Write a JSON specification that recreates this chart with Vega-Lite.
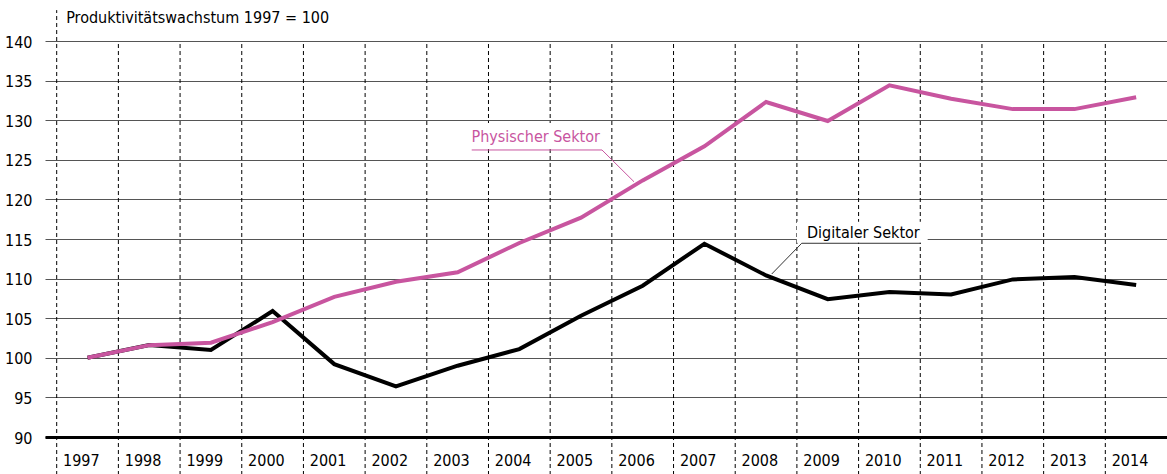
{
  "$schema": "https://vega.github.io/schema/vega-lite/v6.json",
  "width": 1122,
  "height": 396,
  "autosize": {"type": "none"},
  "padding": {"left": 45, "top": 41, "right": 0, "bottom": 37},
  "background": "white",
  "config": {
    "view": {"stroke": null},
    "font": "DejaVu Sans Condensed, Roboto, sans-serif",
    "axis": {"labelFont": "DejaVu Sans Condensed, Roboto, sans-serif", "labelFontSize": 16, "labelColor": "#000", "title": null},
    "axisY": {"tickCount": 20, "grid": true, "gridColor": "#555", "gridWidth": 1, "domain": false, "ticks": false, "labelPadding": 13, "labelOverlap": false, "labelFlush": false, "labelOffset": 1},
    "axisX": {"tickCount": 30, "grid": false, "ticks": false, "domain": true, "domainColor": "#000", "domainWidth": 3, "labelAlign": "left", "labelOffset": -25, "labelPadding": 15, "labelBaseline": "top", "labelFlush": false, "labelOverlap": false}
  },
  "datasets": {
    "series": [
      {"year": 1997, "sector": "Digital", "value": 100.0},
      {"year": 1998, "sector": "Digital", "value": 101.6},
      {"year": 1999, "sector": "Digital", "value": 101.0},
      {"year": 2000, "sector": "Digital", "value": 105.9},
      {"year": 2001, "sector": "Digital", "value": 99.2},
      {"year": 2002, "sector": "Digital", "value": 96.4},
      {"year": 2003, "sector": "Digital", "value": 99.0},
      {"year": 2004, "sector": "Digital", "value": 101.1},
      {"year": 2005, "sector": "Digital", "value": 105.3},
      {"year": 2006, "sector": "Digital", "value": 109.1},
      {"year": 2007, "sector": "Digital", "value": 114.4},
      {"year": 2008, "sector": "Digital", "value": 110.4},
      {"year": 2009, "sector": "Digital", "value": 107.4},
      {"year": 2010, "sector": "Digital", "value": 108.3},
      {"year": 2011, "sector": "Digital", "value": 108.0},
      {"year": 2012, "sector": "Digital", "value": 109.9},
      {"year": 2013, "sector": "Digital", "value": 110.2},
      {"year": 2014, "sector": "Digital", "value": 109.2},
      {"year": 1997, "sector": "Physisch", "value": 100.0},
      {"year": 1998, "sector": "Physisch", "value": 101.6},
      {"year": 1999, "sector": "Physisch", "value": 101.9},
      {"year": 2000, "sector": "Physisch", "value": 104.5},
      {"year": 2001, "sector": "Physisch", "value": 107.7},
      {"year": 2002, "sector": "Physisch", "value": 109.6},
      {"year": 2003, "sector": "Physisch", "value": 110.8},
      {"year": 2004, "sector": "Physisch", "value": 114.5},
      {"year": 2005, "sector": "Physisch", "value": 117.7},
      {"year": 2006, "sector": "Physisch", "value": 122.4},
      {"year": 2007, "sector": "Physisch", "value": 126.7},
      {"year": 2008, "sector": "Physisch", "value": 132.3},
      {"year": 2009, "sector": "Physisch", "value": 129.9},
      {"year": 2010, "sector": "Physisch", "value": 134.4},
      {"year": 2011, "sector": "Physisch", "value": 132.7},
      {"year": 2012, "sector": "Physisch", "value": 131.4},
      {"year": 2013, "sector": "Physisch", "value": 131.4},
      {"year": 2014, "sector": "Physisch", "value": 132.9}
    ],
    "edges": [
      {"edge": 1997.5}, {"edge": 1998.5}, {"edge": 1999.5}, {"edge": 2000.5},
      {"edge": 2001.5}, {"edge": 2002.5}, {"edge": 2003.5}, {"edge": 2004.5},
      {"edge": 2005.5}, {"edge": 2006.5}, {"edge": 2007.5}, {"edge": 2008.5},
      {"edge": 2009.5}, {"edge": 2010.5}, {"edge": 2011.5}, {"edge": 2012.5},
      {"edge": 2013.5}
    ],
    "one": [{}],
    "physLeader": [
      {"order": 1, "x": 2003.228, "y": 126.24},
      {"order": 2, "x": 2005.34, "y": 126.24},
      {"order": 3, "x": 2005.859, "y": 122.23}
    ],
    "digLeader": [
      {"order": 1, "x": 2010.507, "y": 114.46},
      {"order": 2, "x": 2008.578, "y": 114.46},
      {"order": 3, "x": 2008.092, "y": 110.58}
    ]
  },
  "layer": [
    {
      "data": {"name": "edges"},
      "mark": {"type": "rule", "stroke": "#000", "strokeWidth": 1, "strokeDash": [4, 3]},
      "encoding": {
        "x": {"field": "edge", "type": "quantitative", "scale": {"domain": [1996.3103, 2014.5], "nice": false, "zero": false}, "axis": {"values": [1997,1998,1999,2000,2001,2002,2003,2004,2005,2006,2007,2008,2009,2010,2011,2012,2013,2014], "format": "d", "tickCount": 30}},
        "y": {"datum": 85.2, "type": "quantitative", "scale": {"domain": [90, 140], "nice": false, "zero": false}, "axis": {"values": [90,95,100,105,110,115,120,125,130,135,140], "tickCount": 20}},
        "y2": {"datum": 140}
      }
    },
    {
      "data": {"name": "one"},
      "mark": {"type": "rule", "stroke": "#000", "strokeWidth": 1, "strokeDash": [4, 3]},
      "encoding": {
        "x": {"datum": 1996.5, "type": "quantitative"},
        "y": {"datum": 85.2, "type": "quantitative"},
        "y2": {"datum": 143.9}
      }
    },
    {
      "data": {"name": "one"},
      "mark": {"type": "rect", "fill": "white"},
      "encoding": {
        "x": {"datum": 2003.136, "type": "quantitative"},
        "x2": {"datum": 2005.405},
        "y": {"datum": 129.65, "type": "quantitative"},
        "y2": {"datum": 126.49}
      }
    },
    {
      "data": {"name": "one"},
      "mark": {"type": "rect", "fill": "white"},
      "encoding": {
        "x": {"datum": 2008.5, "type": "quantitative"},
        "x2": {"datum": 2010.62},
        "y": {"datum": 117.18, "type": "quantitative"},
        "y2": {"datum": 114.53}
      }
    },
    {
      "data": {"name": "physLeader"},
      "mark": {"type": "line", "stroke": "#c8559f", "strokeWidth": 1},
      "encoding": {
        "x": {"field": "x", "type": "quantitative"},
        "y": {"field": "y", "type": "quantitative"},
        "order": {"field": "order"}
      }
    },
    {
      "data": {"name": "digLeader"},
      "mark": {"type": "line", "stroke": "#333", "strokeWidth": 1},
      "encoding": {
        "x": {"field": "x", "type": "quantitative"},
        "y": {"field": "y", "type": "quantitative"},
        "order": {"field": "order"}
      }
    },
    {
      "data": {"name": "series"},
      "transform": [{"filter": "datum.sector === 'Digital'"}],
      "mark": {"type": "line", "stroke": "#000", "strokeWidth": 4, "strokeJoin": "miter"},
      "encoding": {
        "x": {"field": "year", "type": "quantitative"},
        "y": {"field": "value", "type": "quantitative"}
      }
    },
    {
      "data": {"name": "series"},
      "transform": [{"filter": "datum.sector === 'Physisch'"}],
      "mark": {"type": "line", "stroke": "#c8559f", "strokeWidth": 4, "strokeJoin": "miter"},
      "encoding": {
        "x": {"field": "year", "type": "quantitative"},
        "y": {"field": "value", "type": "quantitative"}
      }
    },
    {
      "data": {"name": "one"},
      "mark": {"type": "text", "text": "Produktivitätswachstum 1997 = 100", "align": "left", "baseline": "alphabetic", "fontSize": 16, "fill": "#000", "dx": 9.5, "dy": -18},
      "encoding": {
        "x": {"datum": 1996.5, "type": "quantitative"},
        "y": {"datum": 140, "type": "quantitative"}
      }
    },
    {
      "data": {"name": "one"},
      "mark": {"type": "text", "text": "Physischer Sektor", "align": "left", "baseline": "alphabetic", "fontSize": 16, "fill": "#c8559f"},
      "encoding": {
        "x": {"datum": 2003.225, "type": "quantitative"},
        "y": {"datum": 127.25, "type": "quantitative"}
      }
    },
    {
      "data": {"name": "one"},
      "mark": {"type": "text", "text": "Digitaler Sektor", "align": "left", "baseline": "alphabetic", "fontSize": 16, "fill": "#000"},
      "encoding": {
        "x": {"datum": 2008.664, "type": "quantitative"},
        "y": {"datum": 115.16, "type": "quantitative"}
      }
    }
  ]
}
